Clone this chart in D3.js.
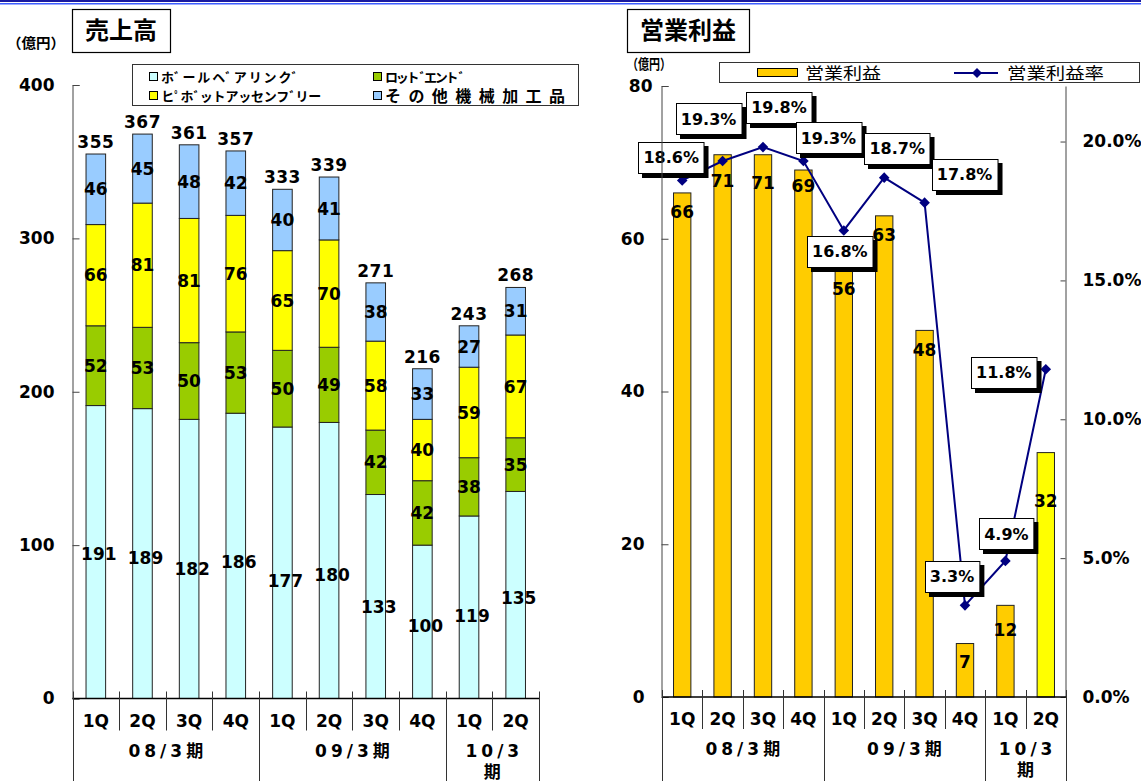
<!DOCTYPE html>
<meta charset="utf-8">
<script src="https://d3js.org/d3.v7.min.js"></script>
<style>
  body { margin: 0; background: #fff; }
  svg text { font-family: "DejaVu Sans", "Liberation Sans", "Noto Sans CJK JP", sans-serif; font-weight: bold; fill: #000; }
  svg text.jp { font-family: "Noto Sans CJK JP", sans-serif; }
</style>
<body>
<div id="chart"></div>
<script>
// ---- data ----
var quarters = ["1Q", "2Q", "3Q", "4Q", "1Q", "2Q", "3Q", "4Q", "1Q", "2Q"];
var periods = ["08/3期", "09/3期", "10/3期"];
var periodSize = [4, 4, 2];

// 売上高 (億円)
var ballBearing = [191, 189, 182, 186, 177, 180, 133, 100, 119, 135];
var rodEnd      = [52, 53, 50, 53, 50, 49, 42, 42, 38, 35];
var pivotAssy   = [66, 81, 81, 76, 65, 70, 58, 40, 59, 67];
var otherParts  = [46, 45, 48, 42, 40, 41, 38, 33, 27, 31];
var salesTotal  = [355, 367, 361, 357, 333, 339, 271, 216, 243, 268];
var salesNames  = ["ホﾞールヘﾞアリンクﾞ", "ロットﾞエントﾞ", "ヒﾟホﾞットアッセンフﾞリー", "その他機械加工品"];
var salesTicks  = [0, 100, 200, 300, 400];

// 営業利益 (億円) and 営業利益率 (%)
var opProfit = [66, 71, 71, 69, 56, 63, 48, 7, 12, 32];
var opMargin = [18.6, 19.3, 19.8, 19.3, 16.8, 18.7, 17.8, 3.3, 4.9, 11.8];
var profitTicks = [0, 20, 40, 60, 80];
var marginTicks = [0, 5, 10, 15, 20];

// ---- layout tweaks (label placement as in the original slide) ----
var ballLabelDy = [2, 4, 10, 6, 18, 14, 10, 4, 9, 3];
var profitLabelDy = [19, 26, 28, 16, 20, 19, 19, 18, 25, 48];
var marginLabelOff = [[-11, -23], [-14, -42], [16, -40], [25, -23], [-4, 21],
                      [13, -29], [40, -28], [-13, -29], [1, -27], [-42, 3]];

var W = 1141, H = 781;
var svg = d3.select("#chart").append("svg")
    .attr("width", W)
    .attr("height", H);

// top rule
svg.append("rect").attr("x", 0).attr("y", 0).attr("width", W).attr("height", 2).attr("fill", "#1a1aa0");
svg.append("rect").attr("x", 0).attr("y", 3).attr("width", W).attr("height", 1.5).attr("fill", "#3c5cff");

function titleBox(x, y, w, h, label) {
    svg.append("rect")
        .attr("x", x + 0.5).attr("y", y + 0.5).attr("width", w).attr("height", h)
        .attr("fill", "#fff").attr("stroke", "#000").attr("stroke-width", 1.2);
    svg.append("text").attr("class", "jp")
        .attr("x", x + w / 2).attr("y", y + h / 2)
        .attr("dy", "0.36em")
        .attr("text-anchor", "middle")
        .style("font-size", "24px")
        .text(label);
}

function styleAxis(g) {
    g.attr("font-family", null).attr("font-size", null);
    g.select(".domain").attr("stroke", "#444");
    g.selectAll(".tick line").attr("stroke", "#444");
    g.selectAll("text").style("font-size", "17px");
}

// category axis with quarter ticks + period separators
function categoryAxis(x, y0) {
    var n = quarters.length;
    var step = x.step();
    var x0 = x.range()[0], x1 = x.range()[1];
    var g = svg.append("g");
    g.append("line").attr("x1", x0).attr("x2", x1).attr("y1", y0).attr("y2", y0)
        .attr("stroke", "#000").attr("stroke-width", 1.3);

    var bounds = [0];
    periodSize.reduce(function(a, s) { bounds.push(a + s); return a + s; }, 0);

    for (var i = 0; i <= n; i++) {
        var xx = Math.round(i < n ? x(i) : x1) + 0.5;
        var isGroup = bounds.indexOf(i) >= 0;
        g.append("line")
            .attr("x1", xx).attr("x2", xx)
            .attr("y1", y0 - 7).attr("y2", isGroup ? H : y0 + 32)
            .attr("stroke", "#333");
    }
    g.selectAll(".q").data(quarters).enter().append("text")
        .attr("x", function(d, i) { return x(i) + step / 2; })
        .attr("y", y0 + 22)
        .attr("dy", "0.36em")
        .attr("text-anchor", "middle")
        .style("font-size", "17px")
        .text(function(d) { return d; });

    periods.forEach(function(p, k) {
        var cx = x0 + (bounds[k] + periodSize[k] / 2) * step;
        var lines = periodSize[k] < 3 ? [p.slice(0, -1), p.slice(-1)] : [p];
        lines.forEach(function(s, j) {
            g.append("text").attr("x", cx + 2).attr("y", y0 + 52 + j * 21).attr("dy", "0.36em")
                .attr("text-anchor", "middle")
                .style("font-size", "17px")
                .style("letter-spacing", "4px")
                .text(s);
        });
    });
}

// =========================== 売上高 ===========================
titleBox(72, 9, 98, 43, "売上高");
svg.append("text").attr("class", "jp").attr("x", 7).attr("y", 43).attr("dy", "0.36em")
    .style("font-size", "14px").text("（億円）")
    .attr("textLength", 58).attr("lengthAdjust", "spacingAndGlyphs");

var xL = d3.scaleBand().domain(d3.range(quarters.length)).range([72.5, 539]);
var yL = d3.scaleLinear().domain([0, 400]).range([698.5, 85]);
var salesColors = ["#ccffff", "#99cc00", "#ffff00", "#99ccff"];

// legend
svg.append("rect").attr("x", 132.5).attr("y", 64.5).attr("width", 446).attr("height", 41)
    .attr("fill", "#fff").attr("stroke", "#333");
var legPos = [[149, 77, 137, 13], [373, 77, 80, 13], [149, 96, 160, 13], [373, 96, 180, 16]];
salesNames.forEach(function(name, k) {
    var p = legPos[k];
    svg.append("rect").attr("x", p[0] + 0.5).attr("y", p[1] - 4.5).attr("width", 8).attr("height", 8)
        .attr("fill", salesColors[k]).attr("stroke", "#000");
    svg.append("text").attr("class", "jp")
        .attr("x", p[0] + 12).attr("y", p[1]).attr("dy", "0.38em")
        .style("font-size", p[3] + "px")
        .attr("textLength", p[2]).attr("lengthAdjust", "spacing")
        .text(name);
});

var salesRows = quarters.map(function(q, i) {
    return { i: i, ball: ballBearing[i], rod: rodEnd[i], pivot: pivotAssy[i], other: otherParts[i] };
});
var salesStack = d3.stack().keys(["ball", "rod", "pivot", "other"])(salesRows);
var bwL = xL.bandwidth() * 0.42;

var layers = svg.selectAll(".layer").data(salesStack).enter().append("g")
    .attr("fill", function(d, k) { return salesColors[k]; });
layers.selectAll("rect").data(function(d) { return d; }).enter().append("rect")
    .attr("x", function(d) { return xL(d.data.i) + (xL.bandwidth() - bwL) / 2; })
    .attr("y", function(d) { return yL(d[1]); })
    .attr("width", bwL)
    .attr("height", function(d) { return yL(d[0]) - yL(d[1]); })
    .attr("stroke", "#222")
    .attr("stroke-width", 1);

salesStack.forEach(function(layer, k) {
    svg.append("g").selectAll("text").data(layer).enter().append("text")
        .attr("x", function(d) { return xL(d.data.i) + xL.bandwidth() / 2 + (k === 0 ? 3 : 0); })
        .attr("y", function(d) { return (yL(d[0]) + yL(d[1])) / 2 + (k === 0 ? ballLabelDy[d.data.i] : 0); })
        .attr("dy", "0.36em")
        .attr("text-anchor", "middle")
        .style("font-size", "17px")
        .text(function(d) { return d[1] - d[0]; });
});

svg.append("g").selectAll("text").data(salesStack[3]).enter().append("text")
    .attr("x", function(d) { return xL(d.data.i) + xL.bandwidth() / 2; })
    .attr("y", function(d) { return yL(d[1]) - 6; })
    .attr("text-anchor", "middle")
    .style("font-size", "17px")
    .style("letter-spacing", "0.5px")
    .text(function(d) { return salesTotal[d.data.i]; });

svg.append("g").attr("transform", "translate(72.5,0)")
    .call(d3.axisLeft(yL).tickValues(salesTicks).tickSizeInner(-7).tickSizeOuter(-7).tickPadding(18))
    .call(styleAxis);

categoryAxis(xL, 698.5);

// =========================== 営業利益 ===========================
titleBox(627, 9, 122, 43, "営業利益");
svg.append("text").attr("class", "jp").attr("x", 627).attr("y", 64).attr("dy", "0.36em")
    .style("font-size", "14px").text("（億円）")
    .attr("textLength", 44).attr("lengthAdjust", "spacingAndGlyphs");

var xR = d3.scaleBand().domain(d3.range(quarters.length)).range([662, 1066]);
var yR = d3.scaleLinear().domain([0, 80]).range([697, 86]);
var yP = d3.scaleLinear().domain([0, 22]).range([697, 86]);
var bwR = xR.bandwidth() * 0.43;

// legend
svg.append("rect").attr("x", 719.5).attr("y", 62.5).attr("width", 420).attr("height", 20)
    .attr("fill", "#fff").attr("stroke", "#333");
svg.append("rect").attr("x", 757.5).attr("y", 68.5).attr("width", 40).attr("height", 8)
    .attr("fill", "#ffcc00").attr("stroke", "#000");
svg.append("text").attr("class", "jp").attr("x", 805).attr("y", 73).attr("dy", "0.36em")
    .style("font-size", "16px").style("font-weight", "normal")
    .attr("textLength", 76).attr("lengthAdjust", "spacingAndGlyphs").text("営業利益");
svg.append("line").attr("x1", 954).attr("x2", 998).attr("y1", 73).attr("y2", 73)
    .attr("stroke", "#000080").attr("stroke-width", 2);
svg.append("path").attr("d", d3.symbol(d3.symbolSquare, 50)())
    .attr("transform", "translate(977,73) rotate(45)").attr("fill", "#000080");
svg.append("text").attr("class", "jp").attr("x", 1007).attr("y", 73).attr("dy", "0.36em")
    .style("font-size", "16px").style("font-weight", "normal")
    .attr("textLength", 97).attr("lengthAdjust", "spacingAndGlyphs").text("営業利益率");

// bars
svg.append("g").selectAll("rect").data(opProfit).enter().append("rect")
    .attr("x", function(d, i) { return xR(i) + (xR.bandwidth() - bwR) / 2; })
    .attr("y", function(d) { return yR(d); })
    .attr("width", bwR)
    .attr("height", function(d) { return yR(0) - yR(d); })
    .attr("fill", function(d, i) { return i === opProfit.length - 1 ? "#ffff00" : "#ffcc00"; })
    .attr("stroke", "#222")
    .attr("stroke-width", 1);

svg.append("g").selectAll("text").data(opProfit).enter().append("text")
    .attr("x", function(d, i) { return xR(i) + xR.bandwidth() / 2; })
    .attr("y", function(d, i) { return yR(d) + profitLabelDy[i]; })
    .attr("dy", "0.36em")
    .attr("text-anchor", "middle")
    .style("font-size", "17px")
    .text(function(d) { return d; });

// margin line
var cxR = function(i) { return xR(i) + xR.bandwidth() / 2; };
svg.append("path").datum(opMargin)
    .attr("fill", "none").attr("stroke", "#000080").attr("stroke-width", 2)
    .attr("d", d3.line().x(function(d, i) { return cxR(i); }).y(function(d) { return yP(d); }));
svg.append("g").selectAll("path").data(opMargin).enter().append("path")
    .attr("d", d3.symbol(d3.symbolSquare, 56)())
    .attr("transform", function(d, i) { return "translate(" + cxR(i) + "," + yP(d) + ") rotate(45)"; })
    .attr("fill", "#000080");

// margin labels
opMargin.forEach(function(v, i) {
    var cx = cxR(i) + marginLabelOff[i][0], cy = yP(v) + marginLabelOff[i][1];
    var g = svg.append("g");
    var shadow = g.append("rect").attr("fill", "#000");
    var box = g.append("rect").attr("fill", "#fff").attr("stroke", "#000");
    var t = g.append("text").attr("x", cx).attr("y", cy).attr("dy", "0.36em")
        .attr("text-anchor", "middle")
        .style("font-size", "16px")
        .text(v.toFixed(1) + "%");
    var w = t.node().getComputedTextLength() + 10, h = 31;
    box.attr("x", Math.round(cx - w / 2) + 0.5).attr("y", Math.round(cy - h / 2) + 0.5)
        .attr("width", w).attr("height", h);
    shadow.attr("x", Math.round(cx - w / 2) + 4).attr("y", Math.round(cy - h / 2) + 4)
        .attr("width", w + 1).attr("height", h + 1);
});

svg.append("g").attr("transform", "translate(661.5,0)")
    .call(d3.axisLeft(yR).tickValues(profitTicks).tickSizeInner(-7).tickSizeOuter(-7).tickPadding(17))
    .call(styleAxis)
    .selectAll(".tick text").filter(function(d) { return d === 80; }).attr("x", -9);

svg.append("g").attr("transform", "translate(1065.5,0)")
    .call(d3.axisRight(yP).tickValues(marginTicks).tickSizeInner(-5).tickSizeOuter(0).tickPadding(17)
        .tickFormat(function(d) { return d.toFixed(1) + "%"; }))
    .call(styleAxis);

categoryAxis(xR, 697);
</script>
</body>
